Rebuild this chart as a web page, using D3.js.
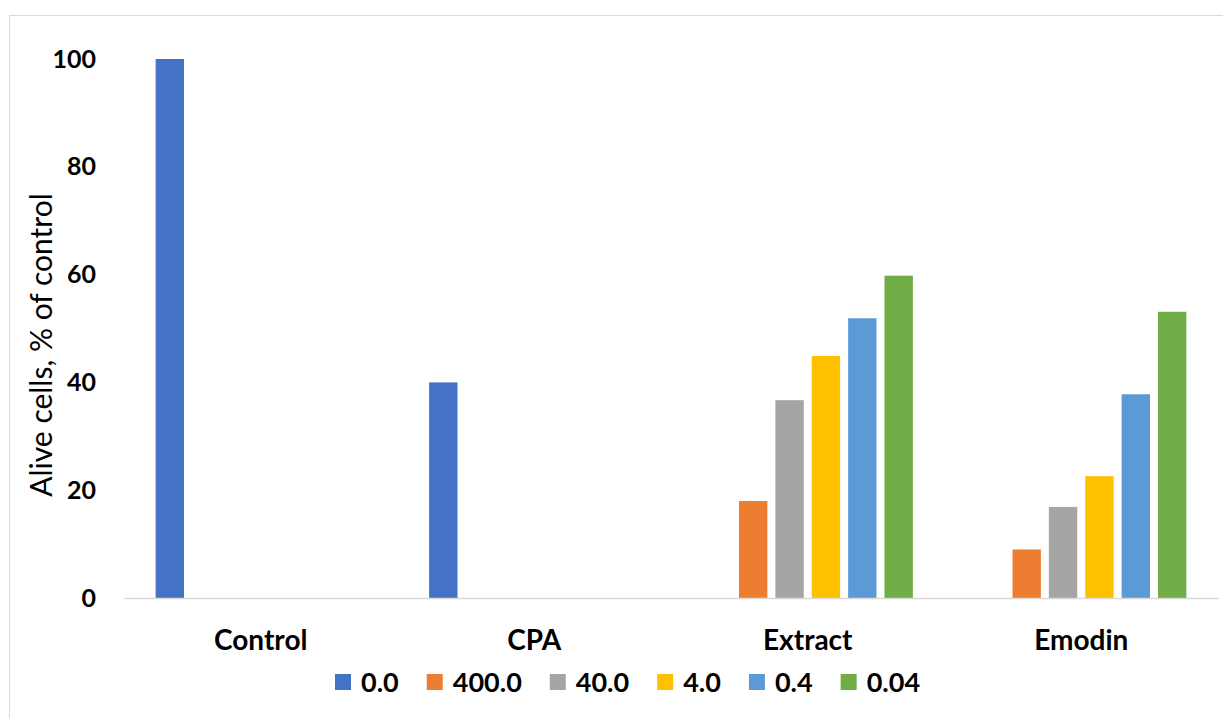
<!DOCTYPE html>
<html>
<head>
<meta charset="utf-8">
<script src="https://cdn.jsdelivr.net/npm/d3@7/dist/d3.min.js"></script>
<style>
  html, body { margin: 0; padding: 0; background: #fff; }
  svg { display: block; }
</style>
</head>
<body>
<svg id="chart" width="1223" height="718"></svg>
<script>
// Treatment groups along the x axis
const categories = ["Control", "CPA", "Extract", "Emodin"];
// Concentration series (legend order)
const seriesNames = ["0.0", "400.0", "40.0", "4.0", "0.4", "0.04"];
const seriesColors = ["#4472C4", "#ED7D31", "#A5A5A5", "#FFC000", "#5B9BD5", "#70AD47"];
// Alive cells, % of control — one array per series, indexed by category (null = no bar)
const s00   = [100, 40, null, null];
const s400  = [null, null, 18.0, 9.0];
const s40   = [null, null, 36.7, 16.9];
const s4    = [null, null, 44.9, 22.6];
const s04   = [null, null, 51.9, 37.8];
const s004  = [null, null, 59.8, 53.1];
const seriesValues = [s00, s400, s40, s4, s04, s004];
const yTicks = [0, 20, 40, 60, 80, 100];

const svg = d3.select("#chart");
const FONT = "Lato, 'Open Sans', sans-serif";

// chart frame
svg.append("rect")
  .attr("x", 9.5).attr("y", 15.5)
  .attr("width", 1240).attr("height", 720)
  .attr("fill", "#fff").attr("stroke", "#d9d9d9").attr("stroke-width", 1);

const x0 = d3.scaleBand().domain(categories).range([124, 1218]).paddingInner(0).paddingOuter(0);
const x1 = d3.scaleBand().domain(seriesNames).range([0, x0.bandwidth()]).paddingInner(0.22).paddingOuter(0.87);
const y = d3.scaleLinear().domain([0, 100]).range([598, 59]);

// bars
const rows = [];
seriesValues.forEach((vals, si) => {
  vals.forEach((v, ci) => {
    if (v !== null) rows.push({ cat: categories[ci], series: seriesNames[si], color: seriesColors[si], value: v });
  });
});
svg.append("g").selectAll("rect").data(rows).join("rect")
  .attr("x", d => x0(d.cat) + x1(d.series))
  .attr("y", d => y(d.value))
  .attr("width", x1.bandwidth())
  .attr("height", d => y(0) - y(d.value))
  .attr("fill", d => d.color);

// y axis (labels only)
const yAxis = svg.append("g").attr("transform", "translate(96,0)")
  .call(d3.axisLeft(y).tickValues(yTicks).tickSize(0).tickPadding(0));
yAxis.select(".domain").remove();
yAxis.selectAll("text")
  .attr("font-family", FONT).attr("font-weight", "bold")
  .attr("font-size", 25).attr("fill", "#000");

// x axis baseline and category labels
const xAxis = svg.append("g").attr("transform", "translate(0,598)")
  .call(d3.axisBottom(x0).tickSize(0));
xAxis.select(".domain").attr("stroke", "#d9d9d9").attr("stroke-width", 1.5);
xAxis.selectAll("text")
  .attr("y", 52).attr("dy", 0)
  .attr("font-family", FONT).attr("font-weight", "bold")
  .attr("font-size", 28).attr("fill", "#000");

// y axis title
svg.append("text")
  .attr("transform", "translate(52,345) rotate(-90)")
  .attr("text-anchor", "middle")
  .attr("font-family", FONT).attr("font-size", 30).attr("fill", "#000")
  .text("Alive cells, % of control");

// legend
const legend = svg.append("g").attr("transform", "translate(335,682)");
let lx = 0;
seriesNames.forEach((name, i) => {
  const g = legend.append("g").attr("transform", `translate(${lx},0)`);
  g.append("rect").attr("x", 0).attr("y", -8).attr("width", 16).attr("height", 16).attr("fill", seriesColors[i]);
  const t = g.append("text").attr("x", 26).attr("y", 0).attr("dy", "0.36em")
    .attr("font-family", FONT).attr("font-weight", "bold").attr("font-size", 27).attr("fill", "#000")
    .text(name);
  lx += 26 + t.node().getComputedTextLength() + 28;
});
</script>
</body>
</html>
